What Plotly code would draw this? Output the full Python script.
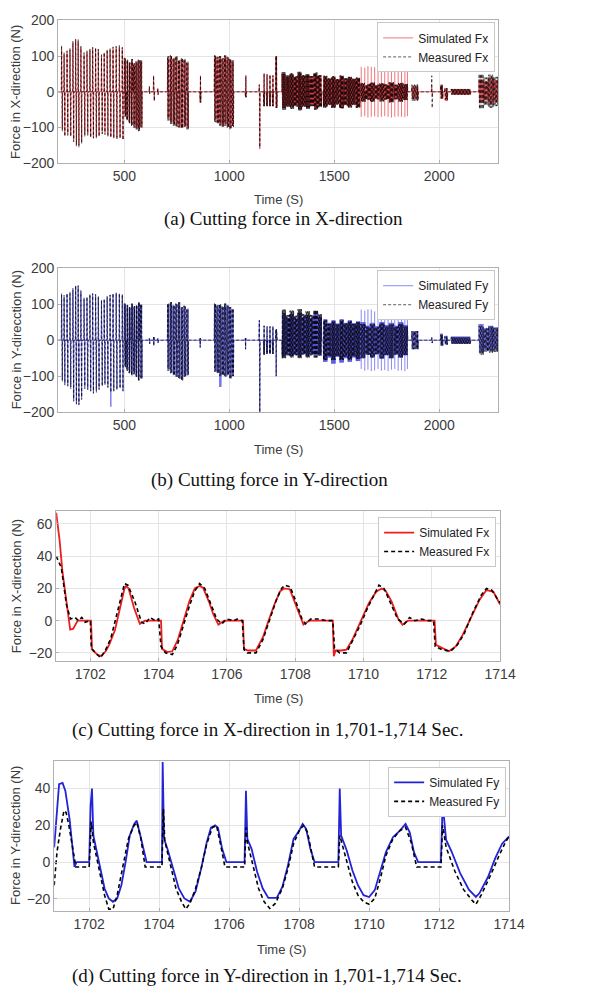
import numpy as np
import plotly.graph_objects as go

# the page body keeps its default 8px margin; size the figure to fill the window
W, H = 606, 986

# ---------------- Panel (a)/(b): burst timing (shared) ----------------
B_t0 = [200, 212, 226, 240, 254, 267, 279, 292, 307, 321, 335, 348, 362, 375, 390, 403, 417, 431, 445, 460, 475, 489,  # group 1
        499, 510, 521, 532, 543, 554, 565, 576,                # group 2
        618, 638, 658,                                         # small
        705, 718, 731, 744, 757, 770, 783, 796,                # group 3
        859,                                                   # small
        928, 940, 952, 964, 976, 988, 1000, 1012,              # group 4
        1075,                                                  # small
        1141, 1162, 1176, 1190, 1204, 1220,                    # transition
        1250, 1269, 1288, 1307, 1326, 1345, 1364, 1383, 1402, 1421,   # dense 1
        1447, 1466, 1486, 1505, 1525, 1544, 1564, 1583, 1603,         # dense 2
        1625, 1648, 1670, 1693, 1715, 1738, 1760, 1783, 1805, 1828,   # dense 3
        1868, 1962, 2005, 2025, 2055,                                 # small
        2188, 2211, 2234, 2257]                                       # dense 4
B_t1 = [206, 218, 232, 246, 260, 273, 285, 298, 313, 327, 341, 354, 368, 381, 396, 409, 423, 437, 451, 466, 481, 495,
        507, 518, 529, 540, 551, 562, 573, 585,
        622, 644, 662,
        714, 727, 740, 753, 766, 779, 792, 806,
        865,
        937, 949, 961, 973, 985, 997, 1009, 1021,
        1081,
        1147, 1168, 1182, 1196, 1210, 1228,
        1269, 1288, 1307, 1326, 1345, 1364, 1383, 1402, 1421, 1440,
        1466, 1486, 1505, 1525, 1544, 1564, 1583, 1603, 1622,
        1648, 1670, 1693, 1715, 1738, 1760, 1783, 1805, 1828, 1850,
        1900, 1968, 2018, 2040, 2150,
        2211, 2234, 2257, 2280]
B_n = ([2] * 22 + [3] * 8 + [1, 2, 1] + [3] * 8 + [2] + [3] * 8 + [2] + [1, 2, 2, 2, 2, 2]
       + [10] * 10 + [10] * 9 + [10] * 10 + [10, 1, 3, 4, 20] + [7] * 4)

# Fx values (panel a)
A_sim_hi = [120, 105, 112, 118, 138, 145, 142, 125, 105, 112, 118, 122, 120, 118, 100, 108, 115, 118, 122, 125, 126, 122,
            92, 85, 80, 88, 75, 82, 88, 85,
            15, 45, 10,
            95, 100, 92, 98, 85, 90, 88, 80,
            45,
            100, 95, 98, 92, 100, 95, 90, 85,
            45,
            20, 50, 48, 46, 45, 100,
            50, 42, 48, 40, 52, 44, 46, 40, 50, 44,
            42, 36, 40, 34, 44, 36, 40, 35, 38,
            22, 18, 24, 17, 22, 19, 25, 18, 22, 20,
            15, 15, 20, 10, 8,
            35, 28, 40, 32]
A_sim_lo = [-105, -120, -118, -122, -135, -148, -150, -140, -120, -118, -125, -128, -126, -122, -115, -115, -122, -125, -128, -130, -128, -132,
            -65, -75, -85, -92, -95, -102, -105, -98,
            -5, -25, -8,
            -75, -85, -90, -95, -98, -100, -95, -102,
            -28,
            -80, -85, -92, -95, -90, -98, -100, -95,
            -15,
            -160, -40, -40, -40, -40, -45,
            -45, -38, -42, -37, -48, -38, -44, -36, -46, -40,
            -40, -34, -42, -33, -45, -36, -40, -34, -42,
            -25, -19, -26, -18, -24, -20, -28, -19, -25, -21,
            -20, -10, -20, -25, -8,
            -30, -24, -35, -28]
A_mea_hi = [130, 110, 115, 122, 142, 148, 146, 128, 110, 115, 120, 125, 124, 120, 104, 110, 118, 122, 126, 128, 130, 125,
            95, 90, 82, 92, 80, 85, 90, 88,
            15, 45, 10,
            100, 102, 95, 100, 90, 95, 92, 85,
            45,
            102, 98, 100, 95, 102, 98, 92, 88,
            45,
            20, 52, 50, 48, 46, 100,
            55, 46, 52, 44, 56, 47, 50, 44, 54, 47,
            45, 38, 44, 36, 46, 38, 42, 37, 40,
            25, 21, 26, 20, 24, 21, 27, 20, 25, 22,
            20, 45, 18, 10, 8,
            50, 40, 48, 42]
A_mea_lo = [-110, -125, -122, -125, -140, -152, -155, -145, -125, -122, -128, -130, -130, -125, -118, -120, -125, -128, -130, -132, -130, -135,
            -70, -80, -88, -95, -100, -105, -110, -100,
            -5, -25, -8,
            -80, -90, -95, -98, -100, -102, -98, -105,
            -30,
            -85, -90, -95, -98, -95, -100, -105, -98,
            -15,
            -155, -40, -40, -40, -40, -45,
            -50, -42, -48, -41, -52, -42, -48, -40, -50, -43,
            -44, -37, -45, -36, -46, -38, -44, -37, -45,
            -28, -22, -28, -21, -27, -22, -30, -21, -28, -23,
            -25, -45, -18, -22, -8,
            -48, -38, -45, -40]

# Fy values (panel b)
B_sim_hi = [125, 120, 128, 130, 140, 150, 150, 135, 115, 118, 125, 128, 125, 120, 110, 112, 120, 125, 128, 130, 128, 125,
            100, 95, 90, 100, 92, 95, 105, 98,
            5, 8, 5,
            100, 105, 95, 100, 105, 90, 95, 85,
            5,
            100, 95, 98, 92, 100, 95, 90, 85,
            5,
            55, 40, 38, 38, 38, 30,
            75, 62, 72, 60, 76, 64, 70, 60, 74, 65,
            58, 48, 55, 46, 58, 48, 55, 47, 52,
            50, 40, 48, 39, 50, 42, 48, 40, 50, 42,
            25, 8, 18, 12, 10,
            45, 34, 40, 36]
B_sim_lo = [-110, -120, -125, -130, -165, -175, -178, -160, -130, -135, -140, -145, -140, -135, -125, -120, -130, -185, -140, -135, -130, -140,
            -70, -80, -90, -95, -90, -100, -110, -105,
            -10, -15, -8,
            -80, -90, -95, -100, -105, -110, -100, -95,
            -20,
            -85, -90, -130, -95, -100, -95, -105, -98,
            -25,
            -200, -40, -38, -38, -38, -100,
            -45, -38, -44, -39, -46, -37, -45, -38, -44, -40,
            -60, -48, -65, -46, -62, -50, -60, -48, -58,
            -50, -40, -48, -39, -52, -42, -50, -40, -48, -42,
            -25, -8, -15, -12, -10,
            -35, -28, -30, -28]
B_mea_hi = [130, 125, 130, 135, 145, 152, 152, 138, 118, 120, 128, 130, 128, 122, 112, 115, 122, 126, 130, 132, 130, 128,
            102, 98, 92, 102, 95, 98, 105, 100,
            5, 8, 5,
            102, 106, 98, 102, 105, 92, 96, 88,
            5,
            102, 98, 100, 95, 102, 98, 92, 88,
            5,
            55, 40, 38, 38, 38, 30,
            85, 70, 82, 68, 86, 72, 80, 70, 84, 72,
            55, 45, 52, 44, 55, 46, 52, 45, 50,
            45, 37, 44, 36, 46, 38, 44, 37, 45, 38,
            25, 8, 15, 10, 8,
            40, 32, 38, 34]
B_mea_lo = [-115, -125, -128, -135, -170, -178, -180, -165, -135, -138, -142, -148, -145, -138, -128, -125, -132, -145, -142, -138, -135, -142,
            -75, -85, -92, -98, -95, -102, -112, -108,
            -10, -15, -8,
            -85, -92, -98, -102, -108, -112, -102, -98,
            -20,
            -88, -92, -100, -98, -102, -98, -108, -100,
            -25,
            -200, -40, -38, -38, -38, -100,
            -50, -42, -48, -42, -50, -40, -48, -42, -48, -43,
            -55, -45, -55, -44, -55, -46, -54, -45, -52,
            -50, -40, -48, -39, -50, -41, -50, -40, -48, -41,
            -25, -8, -15, -12, -10,
            -40, -32, -35, -33]

# isolated simulated spikes on top of dense block 3
SPK_t = [1628, 1645, 1660, 1676, 1692, 1708, 1724, 1740, 1756, 1772, 1788, 1804, 1820, 1836, 1848]
SPK_A_hi = [70, 68, 72, 70, 69, 71, 70, 68, 70, 72, 70, 69, 70, 71, 68]
SPK_A_lo = [-70, -68, -72, -70, -69, -71, -70, -68, -70, -72, -70, -69, -70, -71, -68]
SPK_B_hi = [85, 82, 86, 85, 80, 84, 86, 83, 85, 80, 84, 86, 82, 85, 80]
SPK_B_lo = [-80, -85, -82, -86, -84, -80, -85, -83, -86, -82, -80, -85, -84, -86, -80]

for arr in (B_t1, B_n, A_sim_hi, A_sim_lo, A_mea_hi, A_mea_lo, B_sim_hi, B_sim_lo, B_mea_hi, B_mea_lo):
    assert len(arr) == len(B_t0), len(arr)

# ---------------- Panel (c): Fx in 1701-1714 s ----------------
C_sim_t = [1701.0, 1701.1, 1701.18, 1701.3, 1701.41, 1701.5, 1701.63, 1702.02, 1702.05, 1702.2, 1702.32, 1702.45, 1702.55,
           1702.72, 1702.88, 1703.0, 1703.05, 1703.12, 1703.28, 1703.45, 1703.6, 1704.07, 1704.1, 1704.25, 1704.4, 1704.56,
           1704.73, 1704.9, 1705.06, 1705.2, 1705.3, 1705.47, 1705.6, 1705.75, 1705.92, 1706.47, 1706.5, 1706.62, 1706.85,
           1707.06, 1707.22, 1707.39, 1707.55, 1707.67, 1707.84, 1707.96, 1708.12, 1708.24, 1708.41, 1709.1, 1709.13,
           1709.18, 1709.35, 1709.5, 1709.67, 1709.84, 1710.0, 1710.16, 1710.37, 1710.53, 1710.65, 1710.82, 1711.02,
           1711.14, 1711.3, 1712.08, 1712.12, 1712.3, 1712.5, 1712.7, 1712.9, 1713.15, 1713.4, 1713.6, 1713.8, 1714.0]
C_sim_y = [67, 50, 31, 10, -5.5, -5, 0, 0, -18, -21, -22, -19, -15,
           -6, 10, 20, 21.5, 20, 8, -2, 0, 0, -17.5, -19.5, -19, -12,
           0, 12, 20, 21.5, 20.5, 12, 4, -2.5, 0, 0, -17.5, -18.5, -18.5,
           -10, 0, 10, 18, 20, 19.5, 13, 4, -2.5, 0, 0, -22,
           -18.5, -18.5, -18, -12, -4, 4, 11, 18, 20, 18.5, 12, 1,
           -2.5, 0, 0, -15, -17, -19, -16, -9, 2, 13, 19, 18, 10]
C_mea_t = [1701.0, 1701.15, 1701.3, 1701.42, 1701.55, 1701.65, 1701.75, 1701.85, 1702.0, 1702.03, 1702.15, 1702.3, 1702.45,
           1702.6, 1702.8, 1702.95, 1703.0, 1703.1, 1703.3, 1703.5, 1703.6, 1703.75, 1703.9, 1704.0, 1704.07, 1704.2, 1704.4,
           1704.55, 1704.7, 1704.9, 1705.05, 1705.2, 1705.35, 1705.5, 1705.7, 1705.85, 1706.0, 1706.2, 1706.3, 1706.45,
           1706.5, 1706.6, 1706.85, 1707.05, 1707.25, 1707.45, 1707.6, 1707.7, 1707.85, 1708.0, 1708.2, 1708.3, 1708.45,
           1708.7, 1708.9, 1709.1, 1709.15, 1709.3, 1709.5, 1709.7, 1709.9, 1710.1, 1710.3, 1710.45, 1710.6, 1710.8,
           1711.0, 1711.2, 1711.35, 1711.5, 1711.7, 1711.9, 1712.05, 1712.1, 1712.3, 1712.55, 1712.75, 1712.95, 1713.2,
           1713.45, 1713.6, 1713.75, 1713.9, 1714.0]
C_mea_y = [40, 33, 10, 1, 2, 0, 2, -1, 0, -17, -20, -23, -18,
           -11, 6, 19, 23, 22, 12, -1, -2, 2, 0, 1, -16, -20, -21,
           -15, -4, 9, 18, 23, 20, 12, 1, -2, 1, 0, 1, 0,
           -18, -20, -20, -12, 1, 13, 20, 22, 21, 13, 1, -2, 1,
           1, 0, 0, -17, -20, -20, -12, -3, 7, 16, 22, 20, 11,
           1, -2, 2, 0, 1, 0, 0, -16, -18, -19, -15, -8, 5,
           16, 20, 19, 14, 11]

# ---------------- Panel (d): Fy in 1701-1714 s ----------------
D_sim_t = [1701.0, 1701.08, 1701.14, 1701.24, 1701.32, 1701.44, 1701.52, 1701.58, 1701.64, 1702.0, 1702.04, 1702.08,
           1702.12, 1702.2, 1702.32, 1702.44, 1702.56, 1702.68, 1702.8, 1702.92, 1703.04, 1703.16, 1703.28, 1703.36,
           1703.44, 1703.56, 1703.64, 1704.08, 1704.1, 1704.14, 1704.24, 1704.4, 1704.56, 1704.72, 1704.88, 1705.04,
           1705.2, 1705.36, 1705.48, 1705.6, 1705.68, 1705.8, 1705.92, 1706.44, 1706.48, 1706.52, 1706.64, 1706.8,
           1706.96, 1707.12, 1707.36, 1707.52, 1707.68, 1707.84, 1708.0, 1708.1, 1708.2, 1708.32, 1708.44, 1709.12,
           1709.16, 1709.2, 1709.36, 1709.52, 1709.68, 1709.84, 1710.0, 1710.16, 1710.32, 1710.48, 1710.68, 1710.88,
           1711.04, 1711.16, 1711.28, 1711.4, 1712.05, 1712.1, 1712.2, 1712.35, 1712.6, 1712.85, 1713.05, 1713.15,
           1713.4, 1713.6, 1713.8, 1714.0]
D_sim_y = [8, 30.6, 42.3, 43, 38.7, 23.4, 9, -2.7, 0, 0, 30.6, 40,
           14.4, 7.2, -3.6, -14.4, -19.8, -21.6, -19.8, -12.6, 0, 14.4, 20.5, 22.5,
           16.2, 5.4, 0, 0, 54.4, 12.6, 7, -3.6, -14.4, -19.8, -21.6, -16,
           -3.6, 10.8, 18.7, 20, 18.7, 7.2, 0, 0, 38.7, 12.6, 7.2, -5.4,
           -14.4, -19.5, -19.5, -13.5, -1.8, 12.6, 17, 20.7, 18, 7.2, 0, 0,
           40, 14.4, 6.3, -4.5, -12.6, -18, -19, -15.3, -5.4, 5.4, 13.5, 17.1,
           20.7, 16.2, 5.4, 0, 0, 32, 12, 6, -6, -15, -19, -17,
           -8, 2, 10, 14]
D_mea_t = [1701.0, 1701.08, 1701.18, 1701.28, 1701.34, 1701.42, 1701.54, 1701.62, 1702.0, 1702.06, 1702.12, 1702.28,
           1702.44, 1702.56, 1702.68, 1702.8, 1702.96, 1703.12, 1703.28, 1703.36, 1703.48, 1703.6, 1704.08, 1704.12,
           1704.16, 1704.32, 1704.48, 1704.64, 1704.76, 1704.88, 1705.04, 1705.2, 1705.36, 1705.52, 1705.64, 1705.76,
           1705.88, 1706.44, 1706.48, 1706.52, 1706.68, 1706.84, 1707.0, 1707.16, 1707.32, 1707.52, 1707.68, 1707.84,
           1708.0, 1708.12, 1708.24, 1708.36, 1708.44, 1709.12, 1709.16, 1709.2, 1709.36, 1709.52, 1709.68, 1709.84,
           1710.0, 1710.16, 1710.32, 1710.48, 1710.68, 1710.88, 1711.04, 1711.2, 1711.36, 1712.05, 1712.1, 1712.2,
           1712.45, 1712.7, 1712.95, 1713.05, 1713.2, 1713.45, 1713.7, 1713.9, 1714.0]
D_mea_y = [-12.6, 5.4, 18, 28, 27, 20, 6.3, -2.7, -2.7, 22, 10.8, -3.6,
           -18, -25.6, -25.6, -18, -3.6, 12.6, 19.8, 21.6, 12.6, -2.7, -2.7, 28.8,
           11.7, -1.8, -14.4, -21.6, -25.6, -22.5, -14.4, -3.6, 9.9, 18.7, 19.8, 9,
           -2.7, -2.7, 18.7, 10.8, -1.8, -14.4, -21.6, -25.2, -22.5, -14.4, -3.6, 9.9,
           17.1, 19.8, 16.2, 3.6, -2.7, -2.7, 14.4, 11.7, 0, -10.8, -18, -21.6,
           -23, -19.8, -9, 3.6, 12.6, 17.1, 18.9, 10.8, -2.7, -2.7, 20, 8,
           -5, -15, -21, -23, -18, -8, 3, 11, 14]

# ---------------- Text ----------------
captions = ["(a) Cutting force in X-direction",
            "(b) Cutting force in Y-direction",
            "(c) Cutting force in X-direction in 1,701-1,714 Sec.",
            "(d) Cutting force in Y-direction in 1,701-1,714 Sec."]
ytitles = ["Force in X-direction (N)", "Force in Y-direcction (N)",
           "Force in X-direction (N)", "Force in Y-direcction (N)"]
leg_names = [("Simulated Fx", "Measured Fx"), ("Simulated Fy", "Measured Fy"),
             ("Simulated Fx", "Measured Fx"), ("Simulated Fy", "Measured Fy")]


def burst_series(t0s, t1s, ns, his, los, tstart, tend):
    xs, ys = [tstart], [0.0]
    for t0, t1, n, hi, lo in zip(t0s, t1s, ns, his, los):
        ts = np.linspace(t0, t1, 2 * n + 2)
        vals = [0.0] + [hi, lo] * n + [0.0]
        xs.extend(ts.tolist())
        ys.extend(vals)
    xs.append(tend)
    ys.append(0.0)
    return xs, ys


def spike_series(ts, his, los):
    xs, ys = [], []
    for t, hi, lo in zip(ts, his, los):
        xs += [t, t, None]
        ys += [hi, lo, None]
    return xs, ys


# map layout guide positions (pixels) to paper fractions of the figure
def px(x):
    return (1.027 * x - 7.0) / W


def py(y):
    return 1 - (1.0158 * y - 15.85) / H


# layout guide boxes in pixels: (left, right, top, bottom)
boxes = [(57, 497, 20, 163), (57, 497, 268, 412), (55, 499, 511, 661), (53, 508, 761, 911)]
xtitle_y = [199, 449, 699, 950]
caption_y = [219, 480, 730, 976]
caption_x = [282, 268, 267, 266]
legend_box = [(494, 22), (494, 270), (495, 517), (505, 767)]

fig = go.Figure()

sim_top_cols = ["rgba(232,50,60,0.85)", "rgba(80,80,235,0.85)"]
tick_font = dict(family="Liberation Sans, Arial", size=14, color="#3c3c3c")

# top panels
for k, (sh, sl, mh, ml, sph, spl) in enumerate([(A_sim_hi, A_sim_lo, A_mea_hi, A_mea_lo, SPK_A_hi, SPK_A_lo),
                                                  (B_sim_hi, B_sim_lo, B_mea_hi, B_mea_lo, SPK_B_hi, SPK_B_lo)]):
    ax = "" if k == 0 else str(k + 1)
    leg = "legend" if k == 0 else "legend%d" % (k + 1)
    sx, sy = burst_series(B_t0, B_t1, B_n, sh, sl, 185, 2280)
    mx, my = burst_series(B_t0, B_t1, B_n, mh, ml, 185, 2280)
    kx, ky = spike_series(SPK_t, sph, spl)
    fig.add_trace(go.Scatter(x=sx, y=sy, mode="lines", name=leg_names[k][0],
                             line=dict(color=sim_top_cols[k], width=0.8),
                             xaxis="x" + ax, yaxis="y" + ax, legend=leg))
    fig.add_trace(go.Scatter(x=kx, y=ky, mode="lines", showlegend=False,
                             line=dict(color=sim_top_cols[k], width=0.8),
                             xaxis="x" + ax, yaxis="y" + ax, legend=leg))
    fig.add_trace(go.Scatter(x=mx, y=my, mode="lines", name=leg_names[k][1],
                             line=dict(color="rgba(0,0,0,0.8)", width=0.8, dash="3px,2px"),
                             xaxis="x" + ax, yaxis="y" + ax, legend=leg))

# zoomed panels
for k, (st, sy_, mt, my_, col) in enumerate([(C_sim_t, C_sim_y, C_mea_t, C_mea_y, "#ee1c1c"),
                                              (D_sim_t, D_sim_y, D_mea_t, D_mea_y, "#2323d8")]):
    i = k + 2
    ax = str(i + 1)
    leg = "legend%d" % (i + 1)
    fig.add_trace(go.Scatter(x=st, y=sy_, mode="lines", name=leg_names[i][0],
                             line=dict(color=col, width=1.8),
                             xaxis="x" + ax, yaxis="y" + ax, legend=leg))
    fig.add_trace(go.Scatter(x=mt, y=my_, mode="lines", name=leg_names[i][1],
                             line=dict(color="#000000", width=1.6, dash="4px,3px"),
                             xaxis="x" + ax, yaxis="y" + ax, legend=leg))

xranges = [[185, 2280], [185, 2280], [1701, 1714], [1701, 1714]]
yranges = [[-200, 200], [-200, 200], [-25, 68], [-26.5, 55]]
xdt = [500, 500, 2, 2]
ydt = [100, 100, 20, 20]

layout = dict(width=W, height=H, margin=dict(l=0, r=0, t=0, b=0),
              paper_bgcolor="white", plot_bgcolor="white", annotations=[])
for i in range(4):
    l, r, t, b = boxes[i]
    suffix = "" if i == 0 else str(i + 1)
    common = dict(showgrid=True, gridcolor="#e4e4e4", gridwidth=1, zeroline=False, showline=True, mirror=True,
                  linecolor="#b0b0b0", linewidth=1, ticks="inside", ticklen=3, tickcolor="#b0b0b0",
                  tickfont=tick_font, tick0=0)
    layout["xaxis" + suffix] = dict(domain=[px(l), px(r)], anchor="y" + suffix, range=xranges[i],
                                    dtick=xdt[i], **common)
    layout["yaxis" + suffix] = dict(domain=[py(b), py(t)], anchor="x" + suffix, range=yranges[i],
                                    dtick=ydt[i], **common)
    lx, ly = legend_box[i]
    layout["legend" if i == 0 else "legend%d" % (i + 1)] = dict(
        x=px(lx), y=py(ly), xanchor="right", yanchor="top", bgcolor="white",
        bordercolor="#c8c8c8", borderwidth=1, font=dict(family="Liberation Sans, Arial", size=12, color="#222"),
        itemwidth=30, tracegroupgap=0)
    layout["annotations"].append(dict(text="Time (S)", x=px((l + r) / 2), y=py(xtitle_y[i]), xref="paper", yref="paper",
                                      showarrow=False, xanchor="center", yanchor="middle",
                                      font=dict(family="Liberation Sans, Arial", size=13, color="#3c3c3c")))
    layout["annotations"].append(dict(text=ytitles[i], x=px(15), y=py((t + b) / 2), xref="paper", yref="paper",
                                      showarrow=False, xanchor="center", yanchor="middle", textangle=-90,
                                      font=dict(family="Liberation Sans, Arial", size=13, color="#3c3c3c")))
    layout["annotations"].append(dict(text=captions[i], x=px(caption_x[i]), y=py(caption_y[i]), xref="paper",
                                      yref="paper", showarrow=False, xanchor="center", yanchor="middle",
                                      font=dict(family="Liberation Serif, Times New Roman, serif", size=19,
                                                color="#111")))

fig.update_layout(**layout)
fig.write_html("out.html")
